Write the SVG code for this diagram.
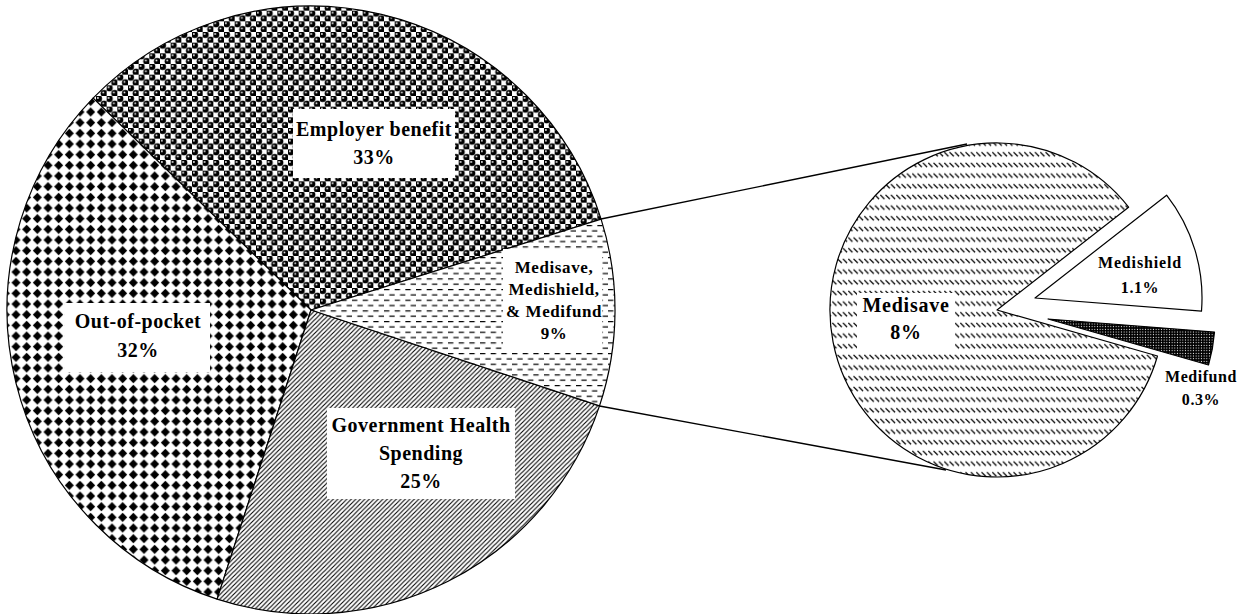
<svg xmlns="http://www.w3.org/2000/svg" width="1242" height="614" viewBox="0 0 1242 614">
<defs>
<pattern id="pSphere" width="10.667" height="10.667" patternUnits="userSpaceOnUse">
<rect width="10.667" height="10.667" fill="#fff"/>
<circle cx="2.67" cy="2.67" r="3.4" fill="#000"/>
<circle cx="8" cy="8" r="3.4" fill="#000"/>
<circle cx="1.9" cy="1.9" r="0.9" fill="#fff"/>
<circle cx="7.2" cy="7.2" r="0.9" fill="#fff"/>
</pattern>
<pattern id="pDiamond" width="10.667" height="10.667" patternUnits="userSpaceOnUse">
<rect width="10.667" height="10.667" fill="#fff"/>
<polygon points="5.33,0.8 9.9,5.33 5.33,9.9 0.8,5.33" fill="#000"/>
</pattern>
<pattern id="pUpDiag" width="4.5" height="4.5" patternUnits="userSpaceOnUse">
<rect width="4.5" height="4.5" fill="#fff"/>
<path d="M-1,5.5 L5.5,-1 M-1,1 L1,-1 M3.5,5.5 L5.5,3.5" stroke="#000" stroke-width="1.1"/>
</pattern>
<pattern id="pDashH" width="10.667" height="10.667" patternUnits="userSpaceOnUse">
<rect width="10.667" height="10.667" fill="#fff"/>
<path d="M0,1.5 H5.333 M5.333,6.833 H10.667" stroke="#000" stroke-width="1.2"/>
</pattern>
<pattern id="pDashDn" width="5.333" height="10.667" patternUnits="userSpaceOnUse">
<rect width="5.333" height="10.667" fill="#fff"/>
<path d="M0.3,2.8 L4.5,7" stroke="#000" stroke-width="1.3"/>
</pattern>
<pattern id="pDark" width="2.667" height="2.667" patternUnits="userSpaceOnUse">
<rect width="2.667" height="2.667" fill="#000"/>
<rect x="0.8" y="0.8" width="1" height="1" fill="#fff"/>
</pattern>
</defs>
<style>
.slice{stroke:#000;stroke-width:1.2;stroke-linejoin:round}
.box{fill:#fff;stroke:none}
.lbl{font-family:"Liberation Serif","Times New Roman",serif;font-weight:bold;fill:#000;text-anchor:middle}
.big{font-size:20px;letter-spacing:0.5px}
.mid{font-size:20px;letter-spacing:0.75px}
.sm{font-size:17px;letter-spacing:0.6px}
.conn{stroke:#000;stroke-width:1.3;fill:none}
</style>
<rect width="1242" height="614" fill="#fff"/>

<g id="connectors">
<line class="conn" x1="601" y1="219" x2="967" y2="144"/>
<line class="conn" x1="599.5" y1="406" x2="946" y2="470"/>
</g>

<g id="employer-benefit">
<path class="slice" fill="url(#pSphere)" d="M311,310 L93.1,98.1 A304,304 0 0 1 601.1,219.1 Z"/>
<rect class="box" x="293" y="109" width="162" height="69"/>
<text class="lbl big" x="374" y="136">Employer benefit</text>
<text class="lbl big" x="374" y="164">33%</text>
</g>

<g id="out-of-pocket">
<path class="slice" fill="url(#pDiamond)" d="M311,310 L217.1,599.1 A304,304 0 0 1 93.1,98.1 Z"/>
<rect class="box" x="65" y="303" width="145" height="69"/>
<text class="lbl big" x="138" y="328">Out-of-pocket</text>
<text class="lbl big" x="138" y="357">32%</text>
</g>

<g id="government-health-spending">
<path class="slice" fill="url(#pUpDiag)" d="M311,310 L599.5,405.9 A304,304 0 0 1 217.1,599.1 Z"/>
<rect class="box" x="327" y="408" width="188" height="91"/>
<text class="lbl big" x="421" y="432">Government Health</text>
<text class="lbl big" x="421" y="460">Spending</text>
<text class="lbl big" x="421" y="488">25%</text>
</g>

<g id="medisave-medishield-medifund">
<path class="slice" fill="url(#pDashH)" d="M311,310 L601.1,219.1 A304,304 0 0 1 599.5,405.9 Z"/>
<rect class="box" x="503" y="249" width="99" height="103"/>
<text class="lbl sm" x="554" y="273">Medisave,</text>
<text class="lbl sm" x="554" y="295">Medishield,</text>
<text class="lbl sm" x="554" y="317">&amp; Medifund</text>
<text class="lbl sm" x="554" y="339">9%</text>
</g>

<g id="medisave">
<path class="slice" fill="url(#pDashDn)" d="M997,310 L1157.5,356 A167,167 0 1 1 1128.6,207.2 Z"/>
<rect class="box" x="857" y="293" width="98" height="59"/>
<text class="lbl mid" x="906" y="312" style="font-weight:600">Medisave</text>
<text class="lbl mid" x="906" y="339" style="font-weight:600">8%</text>
</g>

<g id="medishield">
<path class="slice" fill="#fff" d="M1035,298 L1166.6,195.2 A167,167 0 0 1 1201.5,311.1 Z"/>
<text class="lbl sm" x="1140" y="268" style="font-size:16px;letter-spacing:0.85px">Medishield</text>
<text class="lbl sm" x="1140" y="293" style="font-size:16px">1.1%</text>
</g>

<g id="medifund">
<path class="slice" fill="url(#pDark)" d="M1048,319 L1214.5,332.1 A167,167 0 0 1 1208.5,365 Z"/>
<text class="lbl sm" x="1201" y="382" style="font-size:16px;letter-spacing:0.55px">Medifund</text>
<text class="lbl sm" x="1201" y="405" style="font-size:16px">0.3%</text>
</g>
</svg>
